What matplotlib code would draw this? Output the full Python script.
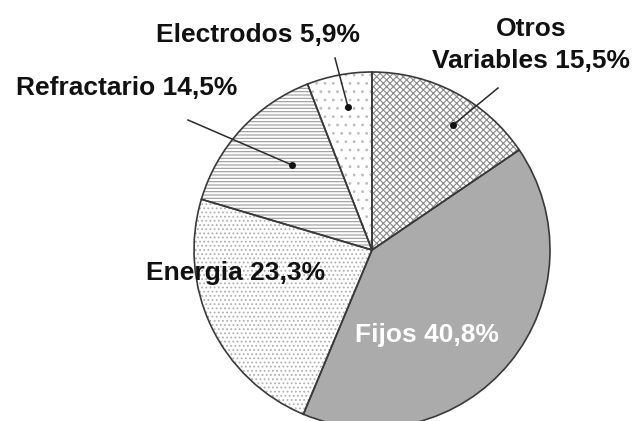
import matplotlib
matplotlib.use("Agg")
import matplotlib.pyplot as plt

categories = ["Otros\nVariables", "Fijos", "Energia", "Refractario", "Electrodos"]
values = [15.5, 40.8, 23.3, 14.5, 5.9]
value_labels = ["15,5%", "40,8%", "23,3%", "14,5%", "5,9%"]

W, H = 635, 421
fig = plt.figure(figsize=(W / 100, H / 100), dpi=100)
ax = fig.add_axes([0, 0, 1, 1])

cx, cy, r = 372, H - 250, 178
face = ["white", "#ababab", "white", "white", "white"]
hatches = ["xxxxx", None, "....", "-----", ".."]
hatch_cols = ["#8a8a8a", "#ababab", "#b0b0b0", "#9a9a9a", "#bdbdbd"]

plt.rcParams["hatch.linewidth"] = 0.8
wedges, _ = ax.pie(values, colors=face, startangle=90, counterclock=False,
                   center=(cx, cy), radius=r,
                   wedgeprops=dict(linewidth=0))
for w, h, hc in zip(wedges, hatches, hatch_cols):
    w.set_edgecolor(hc)
    w.set_linewidth(0)
    if h:
        w.set_hatch(h)

ax.pie(values, colors=face, startangle=90, counterclock=False,
       center=(cx, cy), radius=r,
       wedgeprops=dict(fill=False, edgecolor="#3a3a3a", linewidth=1.2))

ax.set_xlim(0, W)
ax.set_ylim(0, H)
ax.set_aspect("equal")
ax.axis("off")

font = dict(family="Liberation Sans", weight="bold", fontsize=19)

# labels
ax.text(531, H - 45, f"{categories[0]} {value_labels[0]}", ha="center", va="center",
        color="#111111", linespacing=1.45, **font)
ax.text(427, H - 335, f"{categories[1]} {value_labels[1]}", ha="center", va="center",
        color="white", **font)
ax.text(236, H - 273, f"{categories[2]} {value_labels[2]}", ha="center", va="center",
        color="#111111", **font)
ax.text(127, H - 88, f"{categories[3]} {value_labels[3]}", ha="center", va="center",
        color="#111111", **font)
ax.text(258, H - 35, f"{categories[4]} {value_labels[4]}", ha="center", va="center",
        color="#111111", **font)

# leader lines
leaders = [((498, 88), (453, 125)), ((335, 58), (348, 107)), ((188, 120), (292, 165))]
for (x0, y0), (x1, y1) in leaders:
    ax.plot([x0, x1], [H - y0, H - y1], color="#2a2a2a", lw=1.1)
    ax.plot([x1], [H - y1], "o", color="#111111", ms=4)

fig.savefig("out.png", dpi=100)
